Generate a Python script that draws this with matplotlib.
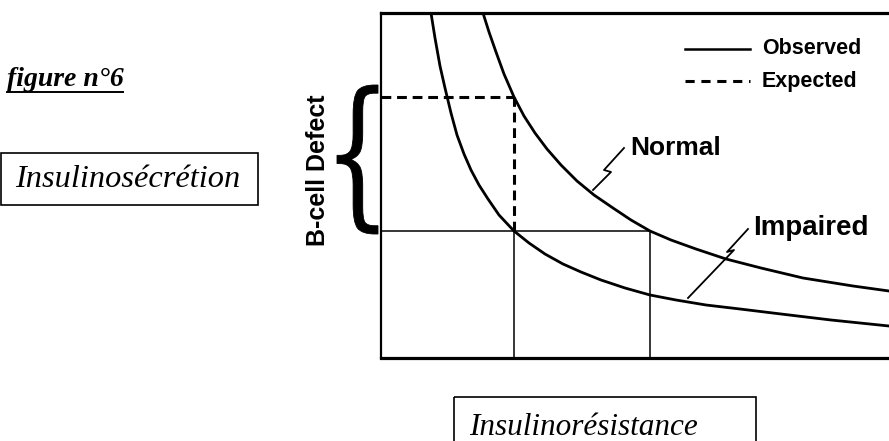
import matplotlib
matplotlib.use("Agg")
import matplotlib.pyplot as plt
from matplotlib.patches import Rectangle, PathPatch
from matplotlib.textpath import TextPath
from matplotlib.font_manager import FontProperties
from matplotlib.transforms import Affine2D

W, H = 889, 441

# insulin resistance (x) vs insulin secretion (y), arbitrary units
impaired_x = [5.0, 5.4, 5.9, 6.4, 7.0, 7.6, 8.3, 9.0, 9.8, 10.7, 11.8, 13.3, 14.8, 16.4,
              18.2, 20.0, 22.0, 24.4, 26.9, 29.5, 32.5, 35.9, 40.0, 45.0, 50.8, 52.4]
impaired_y = [34.5, 32.0, 29.2, 27.0, 24.5, 22.3, 20.4, 18.8, 17.3, 15.9, 14.3, 12.7, 11.5, 10.4,
              9.4, 8.6, 7.8, 7.0, 6.3, 5.8, 5.3, 4.9, 4.4, 3.8, 3.2, 3.1]
normal_x = [10.2, 10.8, 11.5, 12.3, 13.3, 14.3, 15.4, 16.6, 18.0, 19.6, 21.3, 23.2, 25.0,
            26.9, 29.0, 31.5, 34.5, 38.0, 42.2, 47.2, 50.8, 52.4]
normal_y = [34.5, 32.6, 30.6, 28.4, 26.1, 24.2, 22.5, 20.9, 19.3, 17.7, 16.3, 15.0, 13.8,
            12.7, 11.8, 10.9, 9.9, 9.0, 8.0, 7.2, 6.7, 6.5]

secretion_expected = 26.1
secretion_observed = 12.7
resistance_impaired = 13.3
resistance_normal = 26.9

# little lightning pointers from the curves to their labels
normal_ptr_x = [21.2, 23.0, 22.3, 24.3]
normal_ptr_y = [16.8, 18.6, 18.8, 21.0]
impaired_ptr_x = [30.7, 35.3, 34.6, 36.7]
impaired_ptr_y = [6.0, 10.8, 10.6, 12.9]

fig = plt.figure(figsize=(W / 100, H / 100), dpi=100)
fig.patch.set_facecolor("white")

ax = fig.add_axes([381 / W, (H - 358) / H, (905 - 381) / W, (358 - 13) / H])
ax.set_xlim(0, 52.4)
ax.set_ylim(0, 34.5)
ax.set_xticks([])
ax.set_yticks([])
ax.spines["top"].set_linewidth(2.3)
ax.spines["bottom"].set_linewidth(2.3)
ax.spines["left"].set_linewidth(1.6)
ax.spines["right"].set_linewidth(2.0)

ax.plot(impaired_x, impaired_y, color="black", lw=2.0, solid_joinstyle="round")
ax.plot(normal_x, normal_y, color="black", lw=2.0, solid_joinstyle="round")

# expected (dashed) and observed (solid) construction lines
dash = (3.2, 1.9)
ax.plot([0, resistance_impaired], [secretion_expected, secretion_expected],
        color="black", lw=2.2, dashes=dash)
ax.plot([resistance_impaired, resistance_impaired], [secretion_observed, secretion_expected],
        color="black", lw=2.2, dashes=dash)
ax.plot([0, resistance_normal], [secretion_observed, secretion_observed], color="black", lw=1.1)
ax.plot([resistance_impaired, resistance_impaired], [0, secretion_observed], color="black", lw=1.1)
ax.plot([resistance_normal, resistance_normal], [0, secretion_observed], color="black", lw=1.1)

ax.plot(normal_ptr_x, normal_ptr_y, color="black", lw=1.3)
ax.plot(impaired_ptr_x, impaired_ptr_y, color="black", lw=1.3)
ax.text(24.9, 21.0, "Normal", fontsize=19, fontweight="bold", family="Liberation Sans",
        ha="left", va="center")
ax.text(37.2, 13.0, "Impaired", fontsize=20, fontweight="bold", family="Liberation Sans",
        ha="left", va="center")

# overlay in pixel units for the annotations around the plot
ov = fig.add_axes([0, 0, 1, 1], zorder=5)
ov.set_xlim(0, W)
ov.set_ylim(H, 0)
ov.axis("off")

# legend
ov.plot([685, 750], [49, 49], color="black", lw=1.8)
ov.plot([685, 750], [81, 81], color="black", lw=2.2, dashes=(3.0, 2.2))
ov.text(762, 49, "Observed", fontsize=15.5, fontweight="bold", family="Liberation Sans",
        ha="left", va="center")
ov.text(762, 81, "Expected", fontsize=15.5, fontweight="bold", family="Liberation Sans",
        ha="left", va="center")

# B-cell defect brace + label
tp = TextPath((0, 0), "{", size=1, prop=FontProperties(family="DejaVu Serif"))
bb = tp.get_extents()
bx0, bx1, by_top, by_bot = 337, 378, 85, 234
tr = (Affine2D().translate(-bb.x0, -bb.y0)
      .scale((bx1 - bx0) / bb.width, -(by_bot - by_top) / bb.height)
      .translate(bx0, by_bot))
ov.add_patch(PathPatch(tr.transform_path(tp), facecolor="black", edgecolor="black", lw=0.6))
ov.text(318, 170, "B-cell Defect", rotation=90, fontsize=18, fontweight="bold",
        family="Liberation Sans", ha="center", va="center")

# left-hand captions
ov.text(7, 86, "figure n°6", fontsize=20, fontweight="bold", fontstyle="italic",
        family="Liberation Serif", ha="left", va="baseline")
ov.plot([7, 123], [92, 92], color="black", lw=1.4)

ov.add_patch(Rectangle((0.5, 153), 257, 52, fill=False, edgecolor="black", lw=1.2))
ov.text(15, 187, "Insulinosécrétion", fontsize=23.3, fontstyle="italic",
        family="Liberation Serif", ha="left", va="baseline")

ov.add_patch(Rectangle((454, 397), 302, 60, fill=False, edgecolor="black", lw=1.2))
ov.text(469, 435, "Insulinorésistance", fontsize=22.5, fontstyle="italic",
        family="Liberation Serif", ha="left", va="baseline")

fig.savefig("out.png", dpi=100)
